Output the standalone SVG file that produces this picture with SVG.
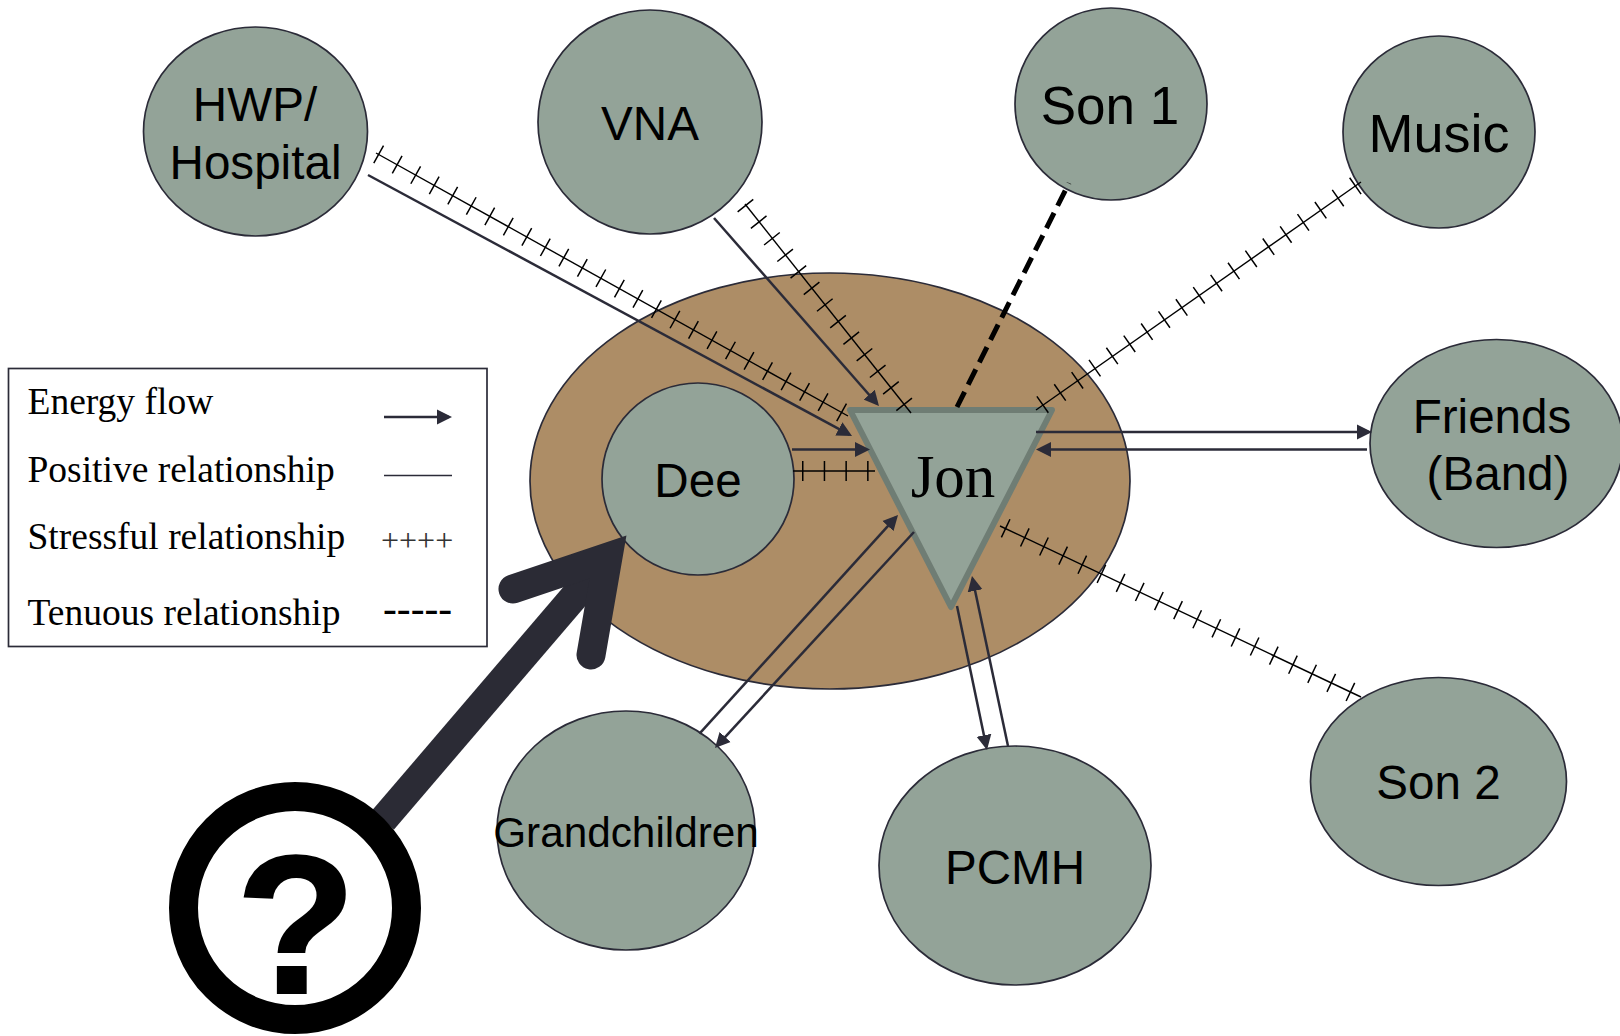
<svg xmlns="http://www.w3.org/2000/svg" width="1620" height="1036" viewBox="0 0 1620 1036">
<style>
.n{fill:#93a398;stroke:#2b2b38;stroke-width:1.7}
.l{font-family:"Liberation Sans",Arial,sans-serif;font-size:47.6px;fill:#000;text-anchor:middle}
.s{font-family:"Liberation Serif","Times New Roman",serif;font-size:37.500px;fill:#000}
.a{stroke:#2b2b38;stroke-width:2.5;fill:none;marker-end:url(#h)}
.p{stroke:#2b2b38;stroke-width:1.5;fill:none}
.base{stroke:#000;stroke-width:1.4;fill:none}
.tick{stroke:#000;stroke-width:20;fill:none;stroke-dasharray:1.500 19.700}
</style>
<defs>
<marker id="h" markerUnits="userSpaceOnUse" markerWidth="16" markerHeight="16" refX="12" refY="7.5" orient="auto" viewBox="0 0 16 15">
<path d="M0 0L15 7.5L0 15Z" fill="#2b2b38"/>
</marker>
</defs>
<rect width="1620" height="1036" fill="#fff"/>
<g id="family"><ellipse cx="830" cy="481" rx="300" ry="208" fill="#ad8d66" stroke="#2b2b38" stroke-width="1.7"/></g>
<g id="hwp"><ellipse class="n" cx="255.500" cy="131.500" rx="112" ry="104.500"/><text class="l" x="255" y="121">HWP/</text><text class="l" x="255.500" y="179">Hospital</text></g>
<g id="vna"><ellipse class="n" cx="650" cy="122" rx="112" ry="112"/><text class="l" x="650" y="140">VNA</text></g>
<g id="son1"><circle class="n" cx="1111" cy="104" r="96"/><text class="l" x="1110" y="123.500" style="font-size:53px">Son 1</text></g>
<g id="music"><circle class="n" cx="1439" cy="132" r="96"/><text class="l" x="1439" y="152" style="font-size:54px">Music</text></g>
<g id="friends"><ellipse class="n" cx="1496.500" cy="443.500" rx="126.500" ry="104"/><text class="l" x="1492" y="433">Friends</text><text class="l" x="1498" y="490">(Band)</text></g>
<g id="son2"><ellipse class="n" cx="1438.500" cy="781.500" rx="128" ry="104"/><text class="l" x="1438.500" y="799">Son 2</text></g>
<g id="pcmh"><ellipse class="n" cx="1015" cy="865.500" rx="136" ry="119.500"/><text class="l" x="1015" y="884">PCMH</text></g>
<g id="grandchildren"><ellipse class="n" cx="626" cy="830.500" rx="129" ry="119.500"/><text class="l" x="626" y="847" style="font-size:42.300px">Grandchildren</text></g>
<g id="dee"><circle class="n" cx="698" cy="479" r="96"/><text class="l" x="698" y="497">Dee</text></g>
<g id="jon"><path d="M850 410H1052L951 607Z" fill="#93a398" stroke="#6f7d74" stroke-width="6" stroke-linejoin="round"/><text x="953" y="497" font-family="'Liberation Serif','Times New Roman',serif" font-size="61" text-anchor="middle" fill="#000">Jon</text></g>
<g id="connectors">
<path class="a" d="M368 175L849.400 434.600"/>
<path class="a" d="M714 218L877 403.700"/>
<path class="a" d="M792 449.500H867"/>
<path class="a" d="M1036 432H1369"/>
<path class="a" d="M1367 449.500H1039"/>
<path class="a" d="M699.500 733.600L896 517.200"/>
<path class="a" d="M914 532L717 745.800"/>
<path class="a" d="M1008 746L972.600 579"/>
<path class="a" d="M957 606L986.400 747"/>
<path d="M957 407L1069 183" stroke="#000" stroke-width="5" stroke-dasharray="17 8" fill="none"/>
<g id="stress">
<path class="base" d="M376 153L848 416"/><path class="tick" d="M378 154L848 416"/>
<path class="base" d="M745 204L911 413"/><path class="tick" d="M745 205L911 413"/>
<path class="base" d="M1036 410L1361 182"/><path class="tick" d="M1042 405L1361 182"/>
<path class="base" d="M1000 526L1361 697"/><path class="tick" d="M1005 528L1361 697"/>
<path class="base" d="M793 471H875"/><path class="tick" style="stroke-dasharray:1.500 20.200" d="M802 471H875"/>
</g>
</g>
<g id="legend">
<rect x="8.500" y="368.500" width="478.500" height="278" fill="#fff" stroke="#2b2b38" stroke-width="1.7"/>
<text class="s" x="27.500" y="414">Energy flow</text>
<text class="s" x="27.500" y="482">Positive relationship</text>
<text class="s" x="27.500" y="549">Stressful relationship</text>
<text class="s" x="27.500" y="625">Tenuous relationship</text>
<path class="a" d="M384 417H449"/>
<path class="p" d="M384 475.500H452"/>
<text x="381" y="551" font-family="'Liberation Serif',serif" font-size="32" fill="#333">++++</text>
<text x="383" y="622" font-family="'Liberation Serif',serif" font-size="41.500" fill="#000">-----</text>
</g>
<g id="question">
<path d="M383 820L609 556" stroke="#2b2b35" stroke-width="29" fill="none"/>
<path d="M513 589L608 557L591 655" stroke="#2b2b35" stroke-width="29" fill="none" stroke-linecap="round" stroke-linejoin="miter" stroke-miterlimit="10"/>
<circle cx="295" cy="908" r="111.500" fill="#fff" stroke="#000" stroke-width="29"/>
<text x="296" y="993" font-family="'Liberation Sans',Arial,sans-serif" font-weight="700" font-size="197" text-anchor="middle" fill="#000" stroke="#000" stroke-width="2">?</text>
</g>
</svg>
